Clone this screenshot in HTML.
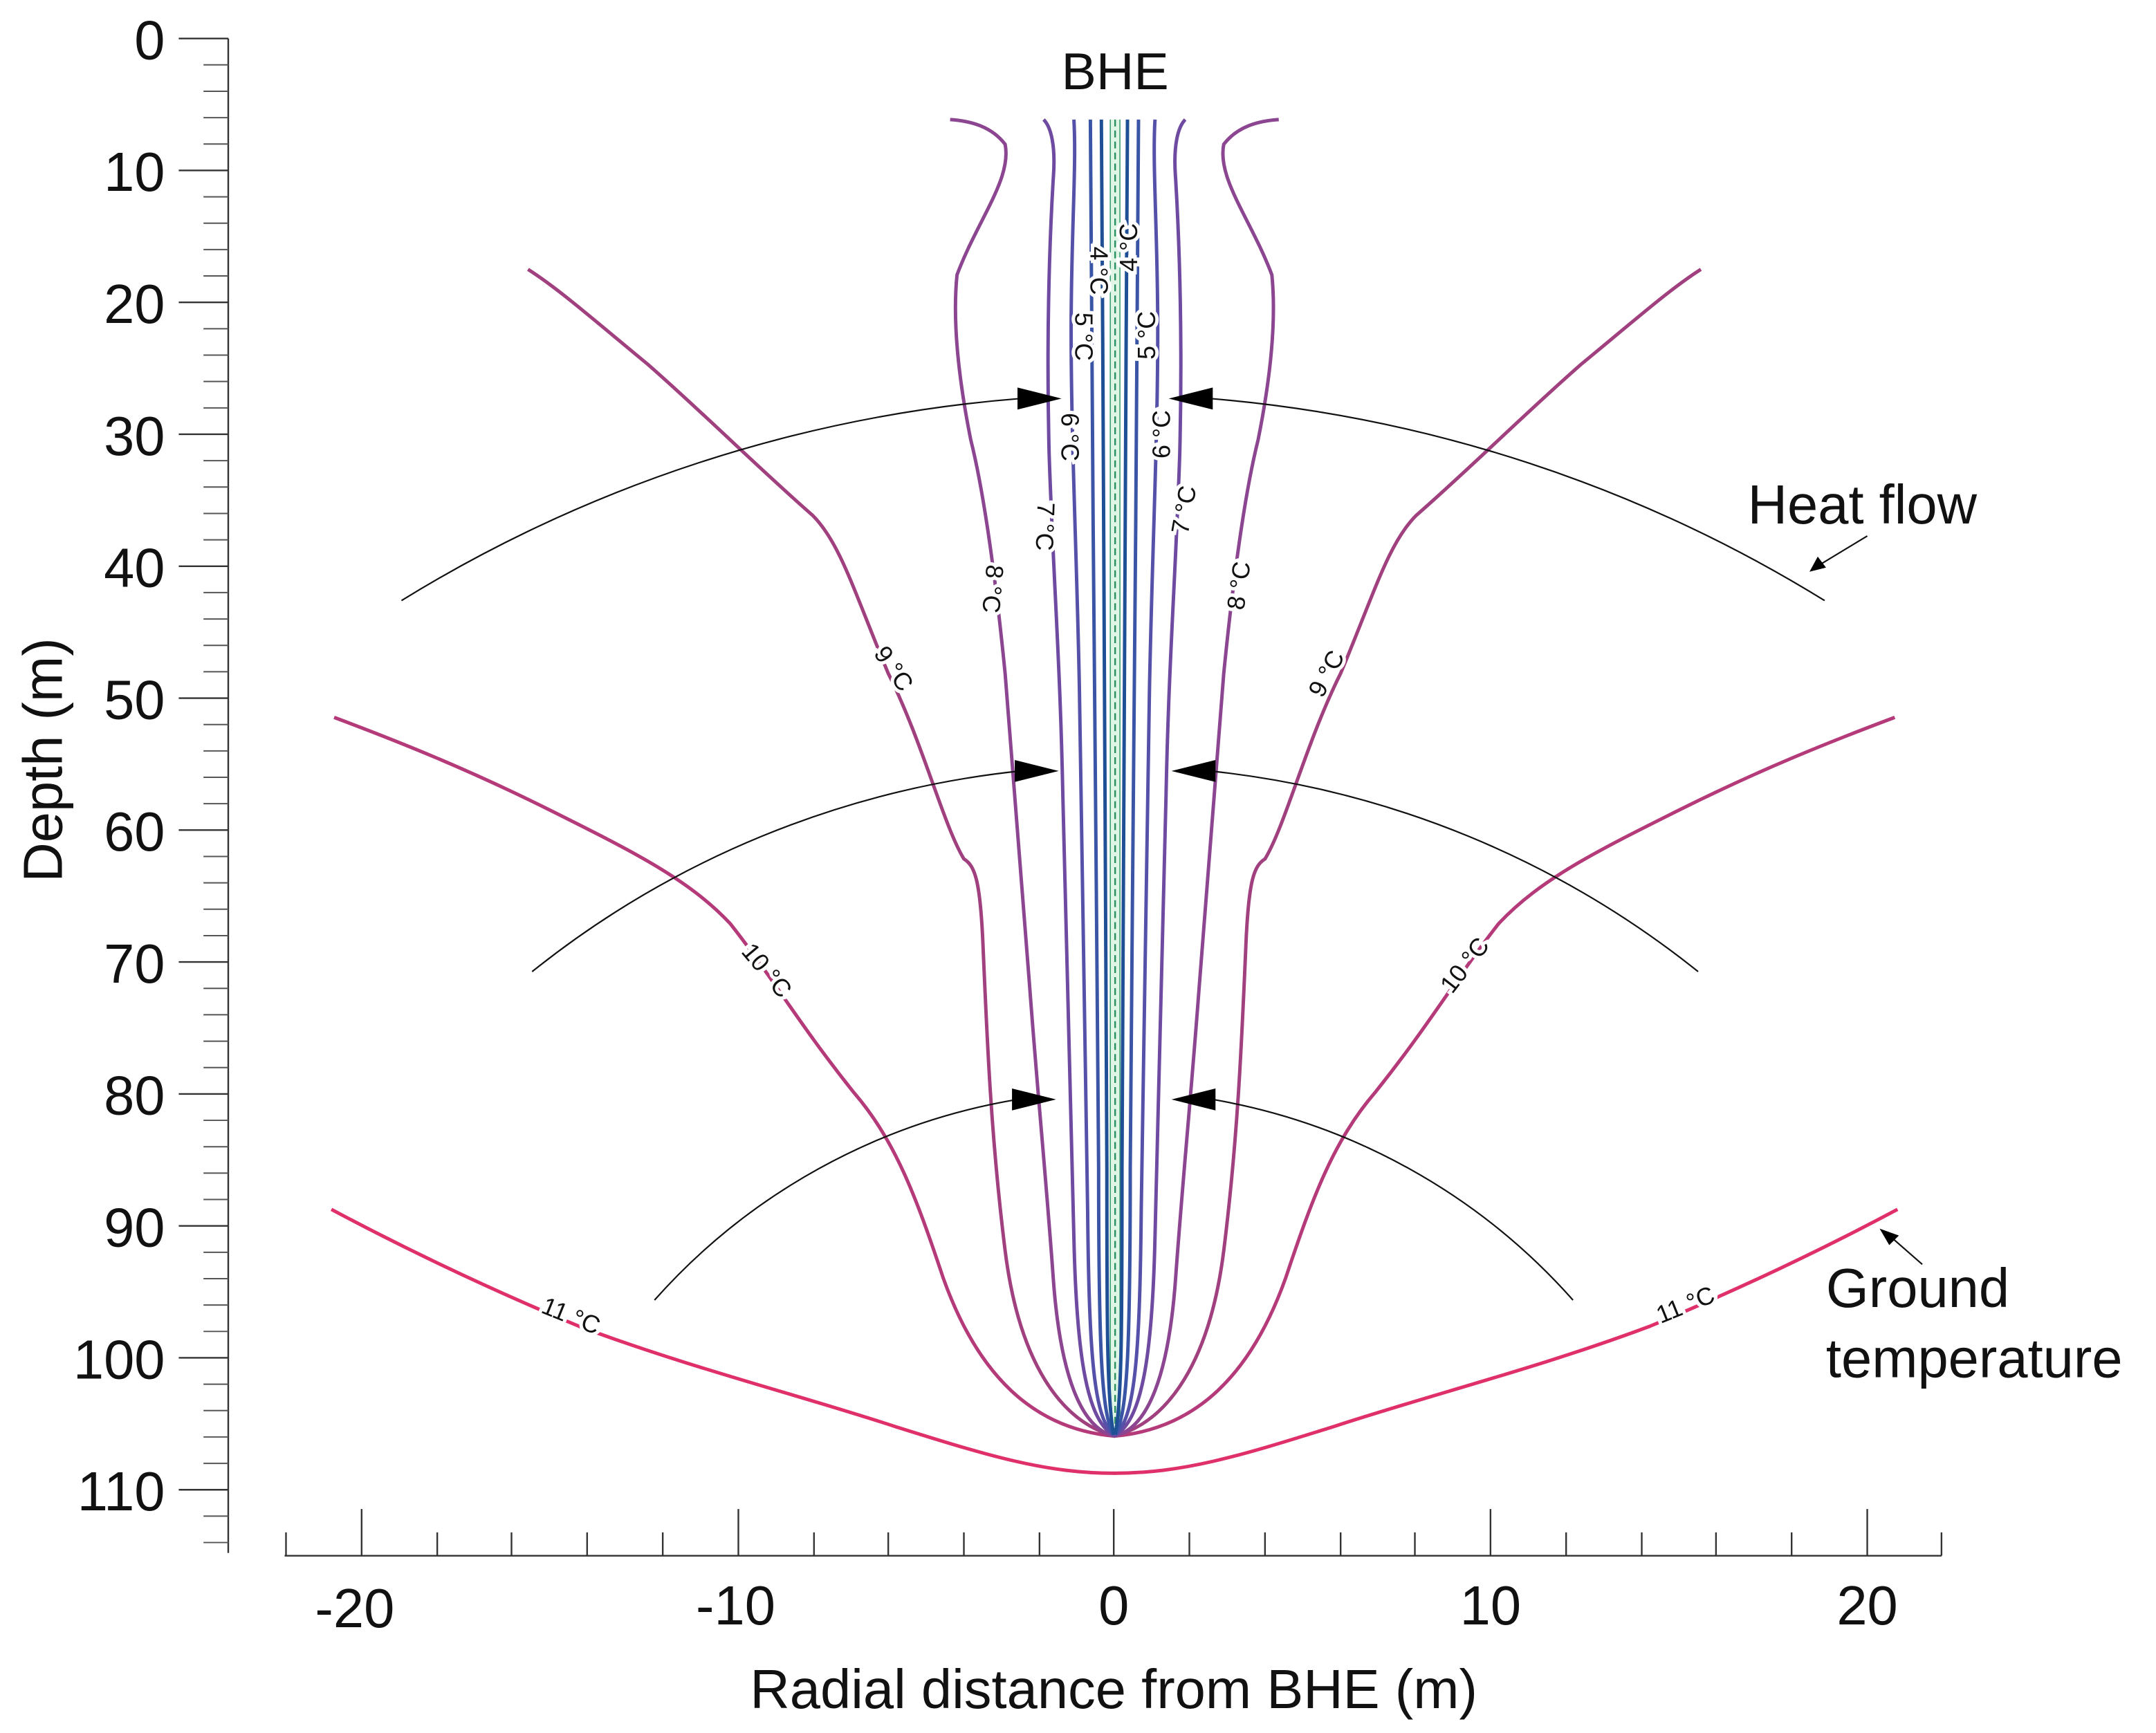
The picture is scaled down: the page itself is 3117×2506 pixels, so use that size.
<!DOCTYPE html>
<html><head><meta charset="utf-8"><style>html,body{margin:0;padding:0;background:#fff}svg{display:block}</style></head>
<body>
<svg width="3117" height="2506" viewBox="0 0 1568 1261" preserveAspectRatio="none" xmlns="http://www.w3.org/2000/svg" font-family="Liberation Sans, sans-serif">
<rect width="1568" height="1261" fill="#fff"/>
<g stroke="#333" stroke-width="1.2">
<line x1="166" y1="28" x2="166" y2="1130"/>
<line x1="130" y1="28" x2="166" y2="28"/><line x1="130" y1="124" x2="166" y2="124"/><line x1="130" y1="220" x2="166" y2="220"/><line x1="130" y1="316" x2="166" y2="316"/><line x1="130" y1="412" x2="166" y2="412"/><line x1="130" y1="508" x2="166" y2="508"/><line x1="130" y1="604" x2="166" y2="604"/><line x1="130" y1="700" x2="166" y2="700"/><line x1="130" y1="796" x2="166" y2="796"/><line x1="130" y1="892" x2="166" y2="892"/><line x1="130" y1="988" x2="166" y2="988"/><line x1="130" y1="1084" x2="166" y2="1084"/>
</g>
<g stroke="#555" stroke-width="1">
<path d="M148 47.2H166M148 66.4H166M148 85.6H166M148 104.8H166M148 143.2H166M148 162.4H166M148 181.6H166M148 200.8H166M148 239.2H166M148 258.4H166M148 277.6H166M148 296.8H166M148 335.2H166M148 354.4H166M148 373.6H166M148 392.8H166M148 431.2H166M148 450.4H166M148 469.6H166M148 488.8H166M148 527.2H166M148 546.4H166M148 565.6H166M148 584.8H166M148 623.2H166M148 642.4H166M148 661.6H166M148 680.8H166M148 719.2H166M148 738.4H166M148 757.6H166M148 776.8H166M148 815.2H166M148 834.4H166M148 853.6H166M148 872.8H166M148 911.2H166M148 930.4H166M148 949.6H166M148 968.8H166M148 1007.2H166M148 1026.4H166M148 1045.6H166M148 1064.8H166M148 1103.2H166M148 1122.4H166"/>
</g>
<g font-size="40" text-anchor="end" fill="#111">
<text x="120" y="43">0</text><text x="120" y="139">10</text><text x="120" y="235">20</text><text x="120" y="331">30</text><text x="120" y="427">40</text><text x="120" y="523">50</text><text x="120" y="619">60</text><text x="120" y="715">70</text><text x="120" y="811">80</text><text x="120" y="907">90</text><text x="120" y="1003">100</text><text x="120" y="1099">110</text>
</g>
<text transform="translate(45,553) rotate(-90)" font-size="40" text-anchor="middle" fill="#111">Depth (m)</text>
<g stroke="#333" stroke-width="1.2">
<line x1="207" y1="1132" x2="1412" y2="1132"/>
<path d="M263 1098V1132M537 1098V1132M810 1098V1132M1084 1098V1132M1358 1098V1132"/>
<path d="M208 1115V1132M318 1115V1132M372 1115V1132M427 1115V1132M482 1115V1132M592 1115V1132M646 1115V1132M701 1115V1132M756 1115V1132M865 1115V1132M920 1115V1132M975 1115V1132M1029 1115V1132M1139 1115V1132M1194 1115V1132M1248 1115V1132M1303 1115V1132M1412 1115V1132"/>
</g>
<g font-size="40" text-anchor="middle" fill="#111">
<text x="258" y="1184">-20</text><text x="535" y="1182">-10</text><text x="810" y="1182">0</text><text x="1084" y="1182">10</text><text x="1358" y="1182">20</text>
</g>
<text x="810" y="1243" font-size="40" text-anchor="middle" fill="#111">Radial distance from BHE (m)</text>
<rect x="807.5" y="87" width="7" height="955" fill="#dff5e6"/>
<line x1="807.5" y1="87" x2="807.5" y2="1042" stroke="#3aa070" stroke-width="0.8"/>
<line x1="814.5" y1="87" x2="814.5" y2="1042" stroke="#3aa070" stroke-width="0.8"/>
<line x1="811" y1="87" x2="811" y2="1042" stroke="#2a9060" stroke-width="1.2" stroke-dasharray="5,3"/>
<text x="811" y="65" font-size="38" text-anchor="middle" fill="#111">BHE</text>
<g id="R" fill="none" stroke-width="2.5">
<path stroke="#e0306a" d="M810 1072 C860 1072 900 1060 970 1038 C1040 1015 1120 995 1200 965 C1260 940 1320 912 1380 880"/>
<path stroke="#b43a7a" d="M810 1045 C870 1040 910 1000 935 930 C955 870 970 830 1000 795 C1040 745 1060 710 1090 672 C1120 640 1160 620 1220 590 C1280 560 1330 540 1378 522"/>
<path stroke="#a0407f" d="M810 1045 C850 1035 880 990 890 910 C900 830 903 760 906 690 C908 640 912 630 920 625 C935 600 950 540 975 490 C1000 430 1010 395 1030 375 C1070 340 1110 300 1150 265 C1190 232 1215 210 1237 196"/>
<path stroke="#8c4590" d="M810 1045 C835 1040 850 1000 855 930 C860 860 866 800 872 720 C878 640 885 560 890 490 C897 420 905 360 915 320 C925 270 928 230 925 200 C910 160 885 130 890 105 C900 92 915 88 930 87"/>
<path stroke="#6e4aa0" d="M810 1045 C830 1035 838 990 840 900 C843 800 845 700 848 580 C850 480 855 420 858 330 C860 250 858 180 855 130 C853 105 857 92 862 87"/>
<path stroke="#5550a8" d="M812 1043 C826 1030 829 980 830 880 C832 760 834 620 836 500 C838 400 842 320 842 240 C842 170 838 120 840 87"/>
<path stroke="#3a55a6" d="M811 1044 C820 1030 822 980 822 850 C823 700 825 520 826 380 C827 250 827 150 828 87"/>
<path stroke="#1f5096" d="M811 1044 C816 1020 816 960 816 850 C817 650 818 450 819 250 C820 160 820 110 820 87"/>
</g>
<use href="#R" transform="translate(1621,0) scale(-1,1)"/>
<g fill="none" stroke="#111" stroke-width="1.1">
<path d="M292 437 A1008 1008 0 0 1 742 290"/>
<path d="M1327 437 A1008 1008 0 0 0 880 290"/>
<path d="M387 707 A682 682 0 0 1 742 561"/>
<path d="M1235 707 A682 682 0 0 0 880 561"/>
<path d="M476 946 A453 453 0 0 1 740 800"/>
<path d="M1144 946 A453 453 0 0 0 882 800"/>
<path d="M1358 390 L1320 413"/>
<path d="M1398 920 L1374 899"/>
</g>
<g fill="#000">
<polygon points="772,290 740,282 740,298"/>
<polygon points="850,290 882,282 882,298"/>
<polygon points="770,561 738,553 738,569"/>
<polygon points="852,561 884,553 884,569"/>
<polygon points="768,800 736,792 736,808"/>
<polygon points="852,800 884,792 884,808"/>
<polygon points="1316,416 1322,405 1328,413"/>
<polygon points="1367,894 1381,899 1374,906"/>
</g>
<text x="1271" y="381" font-size="40" fill="#111">Heat flow</text>
<text x="1328" y="951" font-size="40" fill="#111">Ground</text>
<text x="1328" y="1002" font-size="40" fill="#111">temperature</text>
<g font-size="18" fill="#111" text-anchor="middle" stroke="#fff" stroke-width="5" paint-order="stroke" style="paint-order:stroke">
<text transform="translate(413,963) rotate(22)">11 °C</text>
<text transform="translate(1228,955) rotate(-22)">11 °C</text>
<text transform="translate(553,710) rotate(50)">10 °C</text>
<text transform="translate(1070,706) rotate(-52)">10 °C</text>
<text transform="translate(645,490) rotate(55)">9 °C</text>
<text transform="translate(970,493) rotate(-62)">9 °C</text>
<text transform="translate(716,428) rotate(95)">8 °C</text>
<text transform="translate(907,427) rotate(-82)">8 °C</text>
<text transform="translate(754,383) rotate(92)">7 °C</text>
<text transform="translate(867,372) rotate(-80)">7 °C</text>
<text transform="translate(772,318) rotate(90)">6 °C</text>
<text transform="translate(851,316) rotate(-90)">6 °C</text>
<text transform="translate(782,245) rotate(90)">5 °C</text>
<text transform="translate(840,244) rotate(-90)">5 °C</text>
<text transform="translate(793,197) rotate(90)">4 °C</text>
<text transform="translate(827,180) rotate(-90)">4 °C</text>
</g>
</svg>
</body></html>
